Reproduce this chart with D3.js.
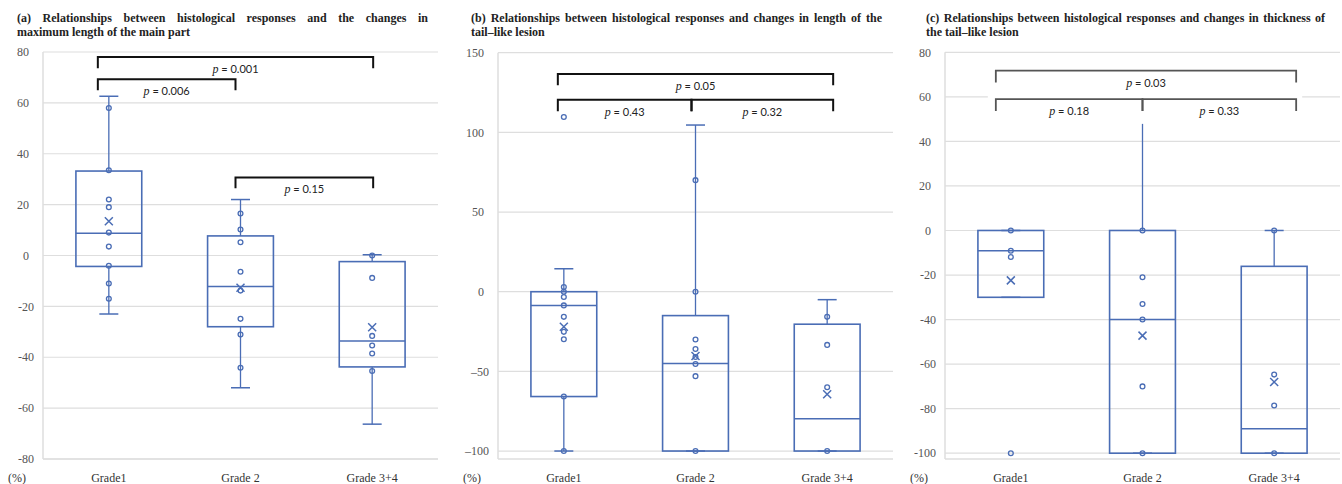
<!DOCTYPE html>
<html>
<head>
<meta charset="utf-8">
<script src="https://cdn.jsdelivr.net/npm/d3@7"></script>
<style>
  body { margin: 0; background: #fff; }
  svg { display: block; }
  .serif { font-family: "Liberation Serif", "DejaVu Serif", serif; }
</style>
</head>
<body>
<svg width="1342" height="484"></svg>
<script>
// ---- data ----
var categories = ['Grade1', 'Grade 2', 'Grade 3+4'];

// (a) maximum length of the main part
var aTitle = ['(a) Relationships between histological responses and the changes in', 'maximum length of the main part'];
var aTicks = [80, 60, 40, 20, 0, -20, -40, -60, -80];
var aPoints = [
  [58, 33.5, 22, 19, 9, 3.5, -4, -11, -17],
  [16.5, 10.2, 5.2, -6.4, -13.8, -24.9, -31.1, -44.1],
  [0, -8.8, -31.6, -35.4, -38.5, -45.4]
];
var aMin    = [-23, -52, -66.3];
var aQ1     = [-4.3, -28, -43.8];
var aMedian = [8.7, -12.2, -33.6];
var aQ3     = [33.2, 7.7, -2.4];
var aMax    = [62.6, 22, 0.3];
var aMean   = [13.5, -12.7, -28.2];
var aBrackets = [
  { from: 0, to: 2, y: 78, leg: 73.6, label: '0.001' },
  { from: 0, to: 1, y: 69.3, leg: 65, label: '0.006' },
  { from: 1, to: 2, y: 30.7, leg: 26.4, label: '0.15' }
];

// (b) length of the tail-like lesion
var bTitle = ['(b) Relationships between histological responses and changes in length of the', 'tail\u2013like lesion'];
var bTicks = [150, 100, 50, 0, -50, -100];
var bPoints = [
  [109.6, 2.9, 0, -3.3, -8.6, -15.8, -25.2, -29.8, -65.8, -100],
  [70, 0, -30, -36, -41, -45.4, -53, -100],
  [-15.8, -33.4, -60, -100]
];
var bMin    = [-100, -100, -100];
var bQ1     = [-65.8, -100, -100];
var bMedian = [-8.6, -45, -79.8];
var bQ3     = [0, -15, -20.4];
var bMax    = [14.4, 104.6, -5];
var bMean   = [-22, -40.4, -64.4];
var bBrackets = [
  { from: 0, to: 2, y: 136.6, leg: 129.6, label: '0.05' },
  { from: 0, to: 1, y: 120.4, leg: 113.3, label: '0.43' },
  { from: 1, to: 2, y: 120.4, leg: 113.3, label: '0.32' }
];

// (c) thickness of the tail-like lesion
var cTitle = ['(c) Relationships between histological responses and changes in thickness of', 'the tail\u2013like lesion'];
var cTicks = [80, 60, 40, 20, 0, -20, -40, -60, -80, -100];
var cPoints = [
  [0, -9.1, -11.9, -100],
  [0, -21, -33, -40, -70, -100],
  [0, -64.7, -78.6, -100]
];
var cMin    = [-30, -100, -100];
var cQ1     = [-30, -100, -100];
var cMedian = [-9.1, -40, -89];
var cQ3     = [0, 0, -16.1];
var cMax    = [0, 50, 0];
var cMean   = [-22.4, -47.2, -68];
var cBrackets = [
  { from: 0, to: 2, y: 71.8, leg: 66.4, label: '0.03' },
  { from: 0, to: 1, y: 59, leg: 53.7, label: '0.18' },
  { from: 1, to: 2, y: 59, leg: 53.7, label: '0.33' }
];

// ---- layout ----
var svg = d3.select('svg');
var blue = '#4a6db5';

var panels = [
  { title: aTitle, ticks: aTicks, points: aPoints, min: aMin, q1: aQ1, med: aMedian, q3: aQ3, max: aMax, mean: aMean,
    brackets: aBrackets, left: 43, right: 438, top: 52, domain: [-80, 80], titleX: 17, titleW: 411,
    legPad: [-11, -5, 1], ink: '#111', inkW: 2, dash: '-' },
  { title: bTitle, ticks: bTicks, points: bPoints, min: bMin, q1: bQ1, med: bMedian, q3: bQ3, max: bMax, mean: bMean,
    brackets: bBrackets, left: 498, right: 893, top: 52.7, domain: [-105, 150], titleX: 471, titleW: 411,
    legPad: [-6, -4, 6], ink: '#111', inkW: 2, dash: '\u2013' },
  { title: cTitle, ticks: cTicks, points: cPoints, min: cMin, q1: cQ1, med: cMedian, q3: cQ3, max: cMax, mean: cMean,
    brackets: cBrackets, left: 945, right: 1340, top: 52.3, domain: [-102.6, 80], titleX: 926, titleW: 399,
    legPad: [-15, 0, 22], ink: '#555', inkW: 1.8, dash: '-', cover: true }
];
var bottom = 459;

panels.forEach(function(p) {
  var g = svg.append('g');
  var y = d3.scaleLinear().domain(p.domain).range([bottom, p.top]);
  var x = d3.scaleBand().domain(categories).range([p.left, p.right]);
  var bw = x.bandwidth() * 0.5;
  var cx = function(i) { return x(categories[i]) + x.bandwidth() / 2; };

  // title, first line justified by widening the word gaps
  var t1 = g.append('text').attr('class', 'serif')
    .attr('x', p.titleX).attr('y', 22)
    .attr('font-size', 12).attr('font-weight', 'bold').attr('fill', '#222')
    .text(p.title[0]);
  var natural = t1.node().getComputedTextLength();
  if (natural > p.titleW) {
    t1.attr('textLength', p.titleW).attr('lengthAdjust', 'spacingAndGlyphs');
  } else {
    var gaps = p.title[0].split(' ').length - 1;
    t1.attr('word-spacing', (p.titleW - natural) / gaps);
  }
  g.append('text').attr('class', 'serif')
    .attr('x', p.titleX).attr('y', 36)
    .attr('font-size', 12).attr('font-weight', 'bold').attr('fill', '#222')
    .text(p.title[1]);

  // gridlines
  g.selectAll('.grid').data(p.ticks).enter().append('line')
    .attr('x1', p.left).attr('x2', p.right)
    .attr('y1', function(d) { return y(d); }).attr('y2', function(d) { return y(d); })
    .attr('stroke', '#dedede').attr('stroke-width', 1.2);
  g.append('line').attr('x1', p.left).attr('x2', p.left).attr('y1', p.top).attr('y2', bottom)
    .attr('stroke', '#dedede').attr('stroke-width', 1.5);
  g.append('line').attr('x1', p.left).attr('x2', p.right).attr('y1', bottom).attr('y2', bottom)
    .attr('stroke', '#dedede').attr('stroke-width', 1.5);

  // tick labels
  g.selectAll('.tl').data(p.ticks).enter().append('text').attr('class', 'serif')
    .attr('x', function(d) { return p.left - (d < 0 ? 9 : 14); })
    .attr('y', function(d) { return y(d); })
    .attr('dy', '0.35em').attr('text-anchor', 'end')
    .attr('font-size', 12).attr('fill', '#555')
    .text(function(d) { return d < 0 ? p.dash + Math.abs(d) : d; });

  // category labels
  g.selectAll('.cl').data(categories).enter().append('text').attr('class', 'serif')
    .attr('x', function(d) { return x(d) + x.bandwidth() / 2; })
    .attr('y', 482).attr('text-anchor', 'middle')
    .attr('font-size', 12).attr('fill', '#333')
    .text(function(d) { return d; });
  g.append('text').attr('class', 'serif')
    .attr('x', p.left - 26).attr('y', 482).attr('text-anchor', 'middle')
    .attr('font-size', 12).attr('fill', '#333').text('(%)');

  // boxes
  var idx = d3.range(categories.length);
  var box = g.selectAll('.box').data(idx).enter().append('g');
  box.append('line')
    .attr('x1', cx).attr('x2', cx)
    .attr('y1', function(i) { return y(p.max[i]); }).attr('y2', function(i) { return y(p.q3[i]); })
    .attr('stroke', blue).attr('stroke-width', 1.3);
  box.append('line')
    .attr('x1', cx).attr('x2', cx)
    .attr('y1', function(i) { return y(p.q1[i]); }).attr('y2', function(i) { return y(p.min[i]); })
    .attr('stroke', blue).attr('stroke-width', 1.3);
  [p.max, p.min].forEach(function(arr) {
    box.append('line')
      .attr('x1', function(i) { return cx(i) - 9.5; }).attr('x2', function(i) { return cx(i) + 9.5; })
      .attr('y1', function(i) { return y(arr[i]); }).attr('y2', function(i) { return y(arr[i]); })
      .attr('stroke', blue).attr('stroke-width', 1.5);
  });
  box.append('rect')
    .attr('x', function(i) { return cx(i) - bw / 2; })
    .attr('width', bw)
    .attr('y', function(i) { return y(p.q3[i]); })
    .attr('height', function(i) { return y(p.q1[i]) - y(p.q3[i]); })
    .attr('fill', 'none').attr('stroke', blue).attr('stroke-width', 1.6);
  box.append('line')
    .attr('x1', function(i) { return cx(i) - bw / 2; }).attr('x2', function(i) { return cx(i) + bw / 2; })
    .attr('y1', function(i) { return y(p.med[i]); }).attr('y2', function(i) { return y(p.med[i]); })
    .attr('stroke', blue).attr('stroke-width', 1.5);

  // inner points
  idx.forEach(function(i) {
    g.selectAll(null).data(p.points[i]).enter().append('circle')
      .attr('cx', cx(i)).attr('cy', function(d) { return y(d); })
      .attr('r', 2.4).attr('fill', 'none').attr('stroke', blue).attr('stroke-width', 1.3);
  });

  // mean markers
  var s = 4;
  box.append('path')
    .attr('d', function(i) {
      var mx = cx(i), my = y(p.mean[i]);
      return 'M' + (mx - s) + ',' + (my - s) + 'L' + (mx + s) + ',' + (my + s) +
             'M' + (mx - s) + ',' + (my + s) + 'L' + (mx + s) + ',' + (my - s);
    })
    .attr('stroke', blue).attr('stroke-width', 1.5).attr('fill', 'none');

  // significance brackets
  var legX = function(i) { return cx(i) + p.legPad[i]; };
  if (p.cover) {
    var topY = d3.min(p.brackets, function(b) { return y(b.y); });
    var lowY = d3.max(p.brackets, function(b) { return y(b.leg); });
    g.append('rect')
      .attr('x', legX(0) - 8).attr('width', legX(2) - legX(0) + 14)
      .attr('y', topY - 9).attr('height', lowY - topY + 22)
      .attr('fill', '#fff');
  }
  p.brackets.forEach(function(b) {
    var x0 = legX(b.from), x1 = legX(b.to), by = y(b.y), ly = y(b.leg);
    g.append('path')
      .attr('d', 'M' + x0 + ',' + ly + 'V' + by + 'H' + x1 + 'V' + ly)
      .attr('fill', 'none').attr('stroke', p.ink).attr('stroke-width', p.inkW);
    var t = g.append('text')
      .attr('x', (x0 + x1) / 2).attr('y', by + 16).attr('text-anchor', 'middle')
      .attr('fill', '#222');
    t.append('tspan').attr('class', 'serif').attr('font-style', 'italic').attr('font-size', 12).text('p');
    t.append('tspan').attr('font-family', 'Lato, "Open Sans", sans-serif').attr('font-size', 11)
      .text(' = ' + b.label);
  });
});
</script>
</body>
</html>
